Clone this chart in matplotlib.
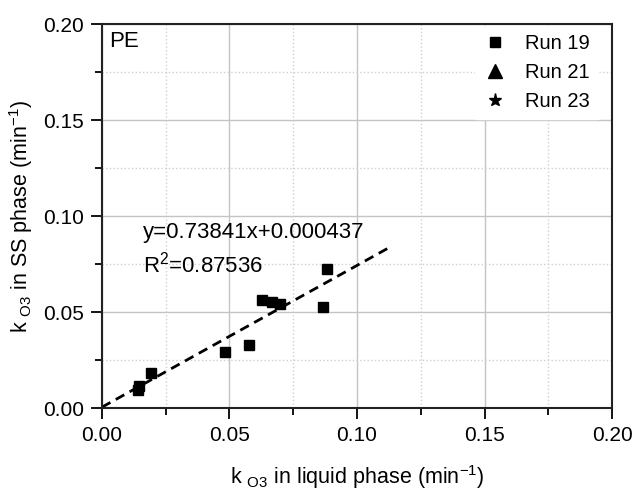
import numpy as np
import matplotlib
matplotlib.use("Agg")
import matplotlib.pyplot as plt
from matplotlib.ticker import MultipleLocator

plt.rcParams["font.family"] = ["Liberation Sans", "DejaVu Sans"]
plt.rcParams["mathtext.fontset"] = "custom"
plt.rcParams["mathtext.rm"] = "Liberation Sans"
plt.rcParams["mathtext.it"] = "Liberation Sans"

# Run 19 data
x19 = [0.0141, 0.0145, 0.0192, 0.0482, 0.0576, 0.0627, 0.0667, 0.0698, 0.0867, 0.0882]
y19 = [0.0094, 0.0113, 0.0182, 0.0292, 0.0328, 0.0563, 0.0552, 0.0542, 0.0526, 0.0724]
# Run 21 / Run 23 appear only in the legend
x21, y21 = [], []
x23, y23 = [], []

slope = 0.73841
icpt = 0.000437
fit_x = np.array([0.0, 0.1125])

f = plt.figure(figsize=(6.33, 4.91), dpi=100)
ax = f.add_axes([0.161, 0.169, 0.806, 0.782])

ax.plot(x19, y19, "s", color="k", ms=7.8, label="Run 19", zorder=3)
ax.plot(x21, y21, "^", color="k", ms=9.5, label="Run 21", zorder=3)
ax.plot(x23, y23, "*", color="k", ms=9.5, label="Run 23", zorder=3)
ax.plot(fit_x, slope * fit_x + icpt, "k--", lw=2, dashes=(3.5, 2.2), zorder=2)

ax.set_xlim(0, 0.2)
ax.set_ylim(0, 0.2)
ax.xaxis.set_major_locator(MultipleLocator(0.05))
ax.yaxis.set_major_locator(MultipleLocator(0.05))
ax.xaxis.set_minor_locator(MultipleLocator(0.025))
ax.yaxis.set_minor_locator(MultipleLocator(0.025))
ax.set_xticklabels([f"{v:.2f}" for v in ax.get_xticks()])
ax.set_yticklabels([f"{v:.2f}" for v in ax.get_yticks()])
ax.grid(which="major", color="#c4c4c4", lw=1, ls="-")
ax.grid(which="minor", color="#d0d0d0", lw=1, ls=":")
ax.set_axisbelow(True)
ax.tick_params(which="major", direction="out", length=8, width=1.3, labelsize=15, pad=5)
ax.tick_params(which="minor", direction="out", length=5, width=1.3)
for s in ax.spines.values():
    s.set_linewidth(1.5)
    s.set_color("#222222")

ax.set_xlabel(r"k $_{\rm O3}$ in liquid phase (min$^{-1}$)", fontsize=15.5, labelpad=13)
ax.set_ylabel(r"k $_{\rm O3}$ in SS phase (min$^{-1}$)", fontsize=15.5, labelpad=6)

ax.text(0.003, 0.191, "PE", fontsize=16, va="center")
ax.text(0.016, 0.0885, "y=0.73841x+0.000437", fontsize=16, va="baseline")
ax.text(0.016, 0.0705, r"R$^{2}$=0.87536", fontsize=16, va="baseline")

leg = ax.legend(loc="upper right", bbox_to_anchor=(0.9725, 0.995), fontsize=14.5,
                frameon=True, fancybox=False, edgecolor="white", facecolor="white",
                framealpha=1, handlelength=1.2, handletextpad=0.9,
                labelspacing=0.5, borderaxespad=0)
leg.set_zorder(5)

f.savefig("out.png", dpi=100)
